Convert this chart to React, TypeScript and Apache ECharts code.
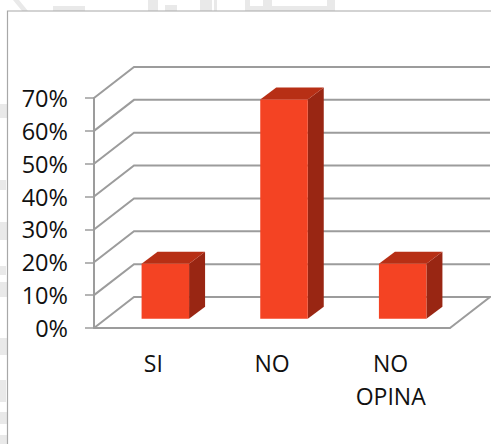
import React, { useEffect, useRef } from "react";
import * as echarts from "echarts";

const categories = ["SI", "NO", "NO OPINA"];
const values = [16.7, 66.7, 16.7];
const yTicks = [0, 10, 20, 30, 40, 50, 60, 70];

const WALL_DX = 40;
const WALL_DY = -31;
const BAR_NEAR = 0.3;
const BAR_DX = 16;
const BAR_DY = -12;
const BAR_W = 47.5;
const GRID_COLOR = "#9c9c9c";
const MARK = "#e9e9e9";

// Faint watermark fragments visible outside the frame: [x, y, width, height]
const watermarkRects = [
  [53, 6, 32, 5],
  [148, 0, 10, 11],
  [165, 5, 12, 6],
  [200, 0, 12, 11],
  [214, 0, 3, 11],
  [245, 0, 90, 11],
  [0, 104, 7, 14],
  [0, 180, 6, 10],
  [0, 222, 7, 18],
  [0, 266, 6, 9],
  [0, 282, 7, 15],
  [0, 338, 7, 17],
  [0, 380, 6, 22],
  [0, 412, 7, 12],
  [0, 435, 7, 9],
];
const watermarkHoles = [
  [250, 0, 13, 6],
  [272, 0, 55, 6],
];

export default function App() {
  const ref = useRef<HTMLDivElement>(null);
  useEffect(() => {
    const chart = echarts.init(ref.current!, undefined, { renderer: "svg" });
    chart.setOption({
      animation: false,
      backgroundColor: "#fff",
      graphic: [
        ...watermarkRects.map(([x, y, width, height]) => ({
          type: "rect",
          z: 0,
          silent: true,
          shape: { x, y, width, height },
          style: { fill: MARK },
        })),
        ...watermarkHoles.map(([x, y, width, height]) => ({
          type: "rect",
          z: 0,
          silent: true,
          shape: { x, y, width, height },
          style: { fill: "#fff" },
        })),
        {
          type: "polygon",
          z: 0,
          silent: true,
          shape: { points: [[13, 0], [19, 0], [28, 11], [22, 11]] },
          style: { fill: MARK },
        },
        {
          type: "polyline",
          z: 0,
          silent: true,
          shape: { points: [[7.5, 444], [7.5, 11], [491, 11]] },
          style: { fill: "none", stroke: "#a8a8a8", lineWidth: 1.2 },
        },
      ],
      grid: { left: 94, right: 41, top: 98, bottom: 116 },
      xAxis: {
        type: "category",
        data: categories,
        axisLine: { show: true, lineStyle: { color: GRID_COLOR, width: 2 } },
        axisTick: { show: false },
        splitLine: { show: false },
        axisLabel: {
          color: "#111",
          fontFamily: "Open Sans",
          fontSize: 23,
          lineHeight: 33,
          margin: 18,
          interval: 0,
          formatter: (v: string) => v.replace(" ", "\n"),
        },
      },
      yAxis: {
        type: "value",
        min: 0,
        max: 70,
        interval: 10,
        axisLine: { show: true, lineStyle: { color: GRID_COLOR, width: 2 } },
        axisTick: { show: true, length: 9, lineStyle: { color: GRID_COLOR, width: 1.5 } },
        splitLine: { show: false },
        axisLabel: {
          color: "#111",
          fontFamily: "Open Sans",
          fontSize: 23.5,
          margin: 26,
          padding: [2, 0, 0, 0],
          formatter: (v: number) => `${v}%`,
        },
      },
      series: [
        {
          type: "custom",
          z: 1,
          silent: true,
          data: yTicks.map((v) => [0, v]),
          encode: { x: 0, y: 1 },
          renderItem: (params: any, api: any) => {
            const cs = params.coordSys;
            const y = api.coord([0, api.value(1)])[1];
            const isFloor = api.value(1) === 0;
            const x0 = cs.x;
            const x1 = cs.x + cs.width;
            const pts = [
              [x0, y],
              [x0 + WALL_DX, y + WALL_DY],
              [x1 + WALL_DX, y + WALL_DY],
            ];
            if (isFloor) pts.push([x1, y]);
            return {
              type: "polyline",
              shape: { points: pts },
              style: { fill: "none", stroke: GRID_COLOR, lineWidth: 2 },
            };
          },
        },
        {
          type: "custom",
          z: 2,
          silent: true,
          data: values.map((v, i) => [i, v]),
          encode: { x: 0, y: 1 },
          renderItem: (_p: any, api: any) => {
            const [cx, top0] = api.coord([api.value(0), api.value(1)]);
            const [, base0] = api.coord([api.value(0), 0]);
            const dx = BAR_NEAR * WALL_DX;
            const dy = BAR_NEAR * WALL_DY;
            const l = cx + dx - BAR_W / 2;
            const r = l + BAR_W;
            const t = top0 + dy;
            const b = base0 + dy;
            return {
              type: "group",
              children: [
                {
                  type: "polygon",
                  shape: { points: [[r, t], [r + BAR_DX, t + BAR_DY], [r + BAR_DX, b + BAR_DY], [r, b]] },
                  style: { fill: "#992613" },
                },
                {
                  type: "polygon",
                  shape: { points: [[l, t], [l + BAR_DX, t + BAR_DY], [r + BAR_DX, t + BAR_DY], [r, t]] },
                  style: { fill: "#b72f15" },
                },
                {
                  type: "rect",
                  shape: { x: l, y: t, width: BAR_W, height: b - t },
                  style: { fill: "#f44323" },
                },
              ],
            };
          },
        },
      ],
    });
    return () => chart.dispose();
  }, []);
  return (
    <div
      ref={ref}
      style={{ position: "fixed", left: 0, top: 0, width: 491, height: 444 }}
    />
  );
}
